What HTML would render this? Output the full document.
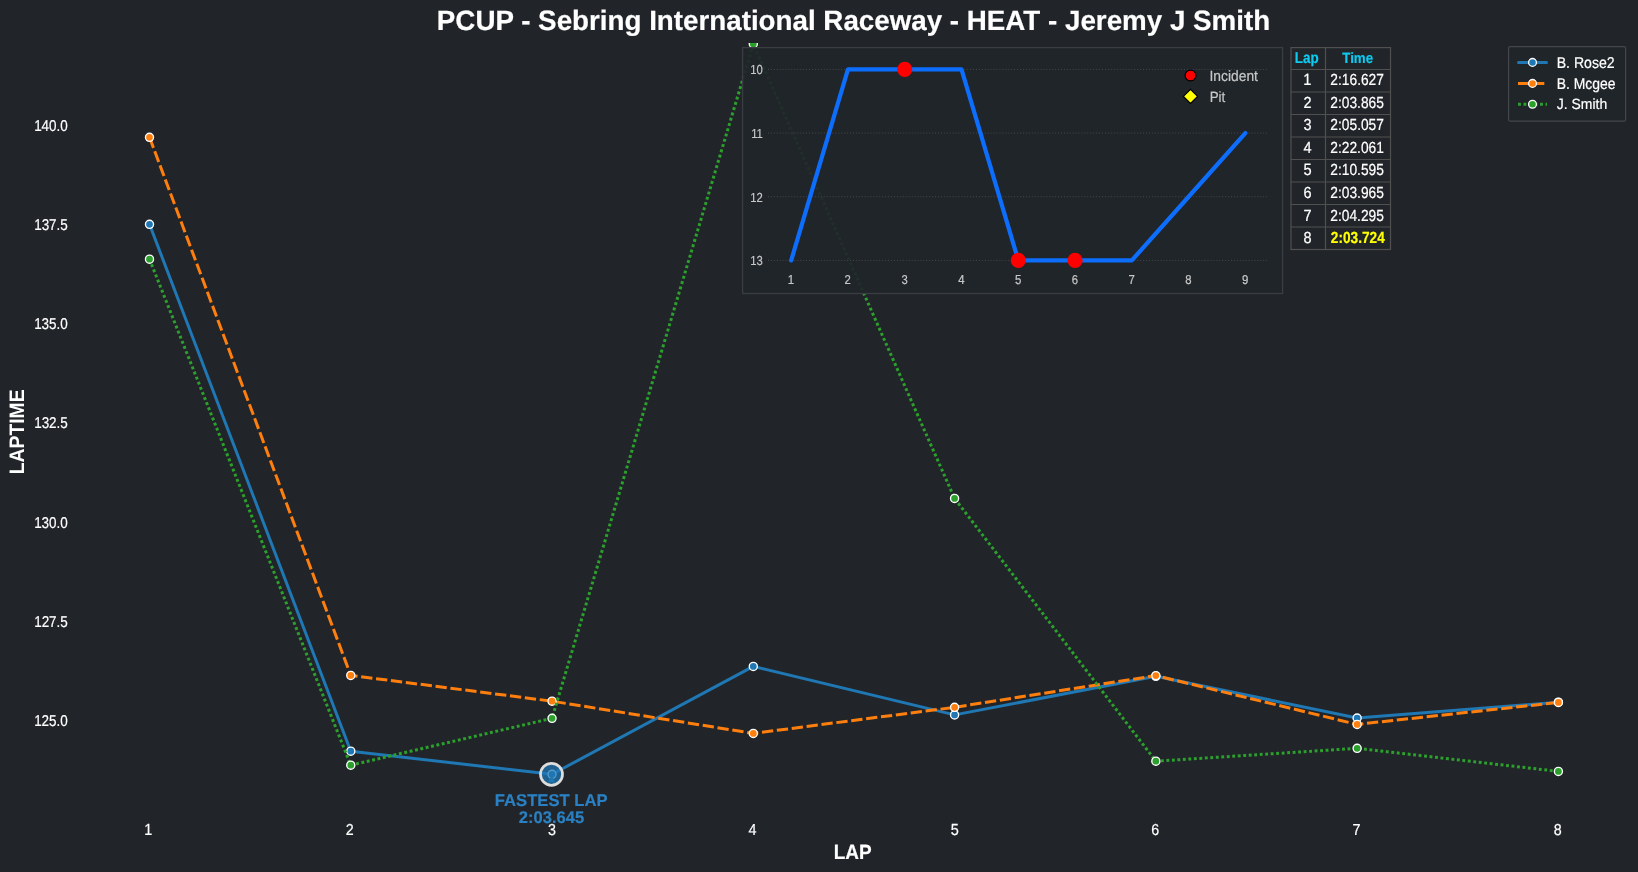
<!DOCTYPE html><html><head><meta charset="utf-8"><style>
html,body{margin:0;padding:0;background:#212529;overflow:hidden;}
svg{display:block;will-change:transform;}
text{font-family:"Liberation Sans", sans-serif;text-rendering:geometricPrecision;}
</style></head><body>
<svg width="1638" height="872" viewBox="0 0 1638 872">
<rect x="0" y="0" width="1638" height="872" fill="#212529"/>
<text transform="translate(34.14,130.59) scale(0.8565,1)" font-size="15.71" fill="#ffffff" stroke="#ffffff" stroke-width="0.2">140.0</text>
<text transform="translate(34.14,229.84) scale(0.8576,1)" font-size="15.71" fill="#ffffff" stroke="#ffffff" stroke-width="0.2">137.5</text>
<text transform="translate(34.14,329.09) scale(0.8565,1)" font-size="15.71" fill="#ffffff" stroke="#ffffff" stroke-width="0.2">135.0</text>
<text transform="translate(34.14,428.34) scale(0.8576,1)" font-size="15.71" fill="#ffffff" stroke="#ffffff" stroke-width="0.2">132.5</text>
<text transform="translate(34.14,527.59) scale(0.8565,1)" font-size="15.71" fill="#ffffff" stroke="#ffffff" stroke-width="0.2">130.0</text>
<text transform="translate(34.14,626.84) scale(0.8576,1)" font-size="15.71" fill="#ffffff" stroke="#ffffff" stroke-width="0.2">127.5</text>
<text transform="translate(34.14,726.09) scale(0.8565,1)" font-size="15.71" fill="#ffffff" stroke="#ffffff" stroke-width="0.2">125.0</text>
<text transform="translate(144.28,835.00) scale(0.9000,1)" font-size="16.09" fill="#ffffff" stroke="#ffffff" stroke-width="0.2">1</text>
<text transform="translate(345.73,835.00) scale(0.9000,1)" font-size="15.86" fill="#ffffff" stroke="#ffffff" stroke-width="0.2">2</text>
<text transform="translate(548.06,835.00) scale(0.9000,1)" font-size="15.86" fill="#ffffff" stroke="#ffffff" stroke-width="0.2">3</text>
<text transform="translate(748.50,835.00) scale(0.9000,1)" font-size="15.96" fill="#ffffff" stroke="#ffffff" stroke-width="0.2">4</text>
<text transform="translate(950.67,835.00) scale(0.9000,1)" font-size="16.09" fill="#ffffff" stroke="#ffffff" stroke-width="0.2">5</text>
<text transform="translate(1151.18,835.00) scale(0.9000,1)" font-size="15.86" fill="#ffffff" stroke="#ffffff" stroke-width="0.2">6</text>
<text transform="translate(1352.40,835.00) scale(0.9000,1)" font-size="15.96" fill="#ffffff" stroke="#ffffff" stroke-width="0.2">7</text>
<text transform="translate(1553.73,835.00) scale(0.9000,1)" font-size="15.86" fill="#ffffff" stroke="#ffffff" stroke-width="0.2">8</text>
<text transform="translate(833.74,859.10) scale(0.9246,1)" font-size="20.56" font-weight="bold" fill="#ffffff" stroke="#ffffff" stroke-width="0.2">LAP</text>
<g transform="translate(24.3,472.9) rotate(-90)"><text transform="translate(-1.28,0) scale(0.9239,1)" font-size="20.92" font-weight="bold" fill="#ffffff">LAPTIME</text></g>
<defs><clipPath id="ax"><rect x="0" y="42.9" width="1638" height="830"/></clipPath></defs><g clip-path="url(#ax)">
<polyline points="149.50,224.30 350.77,751.20 552.04,774.30 753.31,666.40 954.58,714.90 1155.85,676.30 1357.12,718.00 1558.39,702.20" fill="none" stroke="#1f77b4" stroke-width="3.0" stroke-linejoin="round" stroke-linecap="round"/>
<circle cx="149.50" cy="224.30" r="4.05" fill="#1f77b4" stroke="#fff" stroke-width="1.35"/><circle cx="350.77" cy="751.20" r="4.05" fill="#1f77b4" stroke="#fff" stroke-width="1.35"/><circle cx="552.04" cy="774.30" r="4.05" fill="#1f77b4" stroke="#fff" stroke-width="1.35"/><circle cx="753.31" cy="666.40" r="4.05" fill="#1f77b4" stroke="#fff" stroke-width="1.35"/><circle cx="954.58" cy="714.90" r="4.05" fill="#1f77b4" stroke="#fff" stroke-width="1.35"/><circle cx="1155.85" cy="676.30" r="4.05" fill="#1f77b4" stroke="#fff" stroke-width="1.35"/><circle cx="1357.12" cy="718.00" r="4.05" fill="#1f77b4" stroke="#fff" stroke-width="1.35"/><circle cx="1558.39" cy="702.20" r="4.05" fill="#1f77b4" stroke="#fff" stroke-width="1.35"/>
<polyline points="149.50,137.30 350.77,675.40 552.04,701.20 753.31,733.40 954.58,707.30 1155.85,675.60 1357.12,724.40 1558.39,702.40" fill="none" stroke="#ff7f0e" stroke-width="3.0" stroke-dasharray="11.3 3.7" stroke-linejoin="round"/>
<circle cx="149.50" cy="137.30" r="4.05" fill="#ff7f0e" stroke="#fff" stroke-width="1.35"/><circle cx="350.77" cy="675.40" r="4.05" fill="#ff7f0e" stroke="#fff" stroke-width="1.35"/><circle cx="552.04" cy="701.20" r="4.05" fill="#ff7f0e" stroke="#fff" stroke-width="1.35"/><circle cx="753.31" cy="733.40" r="4.05" fill="#ff7f0e" stroke="#fff" stroke-width="1.35"/><circle cx="954.58" cy="707.30" r="4.05" fill="#ff7f0e" stroke="#fff" stroke-width="1.35"/><circle cx="1155.85" cy="675.60" r="4.05" fill="#ff7f0e" stroke="#fff" stroke-width="1.35"/><circle cx="1357.12" cy="724.40" r="4.05" fill="#ff7f0e" stroke="#fff" stroke-width="1.35"/><circle cx="1558.39" cy="702.40" r="4.05" fill="#ff7f0e" stroke="#fff" stroke-width="1.35"/>
<polyline points="149.50,259.20 350.77,765.20 552.04,718.30 753.31,44.00 954.58,498.40 1155.85,761.20 1357.12,748.30 1558.39,771.40" fill="none" stroke="#2ca02c" stroke-width="3.0" stroke-dasharray="2.9 2.6" stroke-linejoin="round"/>
<circle cx="149.50" cy="259.20" r="4.05" fill="#2ca02c" stroke="#fff" stroke-width="1.35"/><circle cx="350.77" cy="765.20" r="4.05" fill="#2ca02c" stroke="#fff" stroke-width="1.35"/><circle cx="552.04" cy="718.30" r="4.05" fill="#2ca02c" stroke="#fff" stroke-width="1.35"/><circle cx="753.31" cy="44.00" r="4.05" fill="#2ca02c" stroke="#fff" stroke-width="1.35"/><circle cx="954.58" cy="498.40" r="4.05" fill="#2ca02c" stroke="#fff" stroke-width="1.35"/><circle cx="1155.85" cy="761.20" r="4.05" fill="#2ca02c" stroke="#fff" stroke-width="1.35"/><circle cx="1357.12" cy="748.30" r="4.05" fill="#2ca02c" stroke="#fff" stroke-width="1.35"/><circle cx="1558.39" cy="771.40" r="4.05" fill="#2ca02c" stroke="#fff" stroke-width="1.35"/>
</g>
<circle cx="551.5" cy="774.3" r="11.0" fill="#1f77b4" fill-opacity="0.75" stroke="#dddddd" stroke-width="2.7"/>
<path d="M551.5,775.3 L548.0,782.3 L555.0,782.3 Z" fill="#1f77b4"/>
<text transform="translate(494.86,805.90) scale(0.9779,1)" font-size="17.00" font-weight="bold" fill="#2a80c2" stroke="#2a80c2" stroke-width="0.2">FASTEST LAP</text>
<text transform="translate(518.84,822.90) scale(0.9801,1)" font-size="16.86" font-weight="bold" fill="#2a80c2" stroke="#2a80c2" stroke-width="0.2">2:03.645</text>
<rect x="742.6" y="47.6" width="539.9999999999999" height="245.9" fill="#212529" fill-opacity="0.92" stroke="#3a3d41" stroke-width="1.3"/>
<line x1="768" y1="69.40" x2="1267" y2="69.40" stroke="#46494e" stroke-width="1" stroke-dasharray="1 1.93"/>
<text transform="translate(750.22,74.30) scale(0.8600,1)" font-size="13.10" fill="#c8c8c8" stroke="#c8c8c8" stroke-width="0.2">10</text>
<line x1="768" y1="133.07" x2="1267" y2="133.07" stroke="#46494e" stroke-width="1" stroke-dasharray="1 1.93"/>
<text transform="translate(751.15,137.97) scale(0.8600,1)" font-size="13.10" fill="#c8c8c8" stroke="#c8c8c8" stroke-width="0.2">11</text>
<line x1="768" y1="196.74" x2="1267" y2="196.74" stroke="#46494e" stroke-width="1" stroke-dasharray="1 1.93"/>
<text transform="translate(750.34,201.64) scale(0.8600,1)" font-size="13.10" fill="#c8c8c8" stroke="#c8c8c8" stroke-width="0.2">12</text>
<line x1="768" y1="260.41" x2="1267" y2="260.41" stroke="#46494e" stroke-width="1" stroke-dasharray="1 1.93"/>
<text transform="translate(750.28,265.31) scale(0.8600,1)" font-size="13.10" fill="#c8c8c8" stroke="#c8c8c8" stroke-width="0.2">13</text>
<text transform="translate(787.65,284.00) scale(0.8800,1)" font-size="13.04" fill="#c8c8c8" stroke="#c8c8c8" stroke-width="0.2">1</text>
<text transform="translate(844.62,284.00) scale(0.8800,1)" font-size="12.86" fill="#c8c8c8" stroke="#c8c8c8" stroke-width="0.2">2</text>
<text transform="translate(901.41,284.00) scale(0.8800,1)" font-size="12.86" fill="#c8c8c8" stroke="#c8c8c8" stroke-width="0.2">3</text>
<text transform="translate(958.18,284.00) scale(0.8800,1)" font-size="12.94" fill="#c8c8c8" stroke="#c8c8c8" stroke-width="0.2">4</text>
<text transform="translate(1014.88,284.00) scale(0.8800,1)" font-size="13.04" fill="#c8c8c8" stroke="#c8c8c8" stroke-width="0.2">5</text>
<text transform="translate(1071.66,284.00) scale(0.8800,1)" font-size="12.86" fill="#c8c8c8" stroke="#c8c8c8" stroke-width="0.2">6</text>
<text transform="translate(1128.45,284.00) scale(0.8800,1)" font-size="12.94" fill="#c8c8c8" stroke="#c8c8c8" stroke-width="0.2">7</text>
<text transform="translate(1185.24,284.00) scale(0.8800,1)" font-size="12.86" fill="#c8c8c8" stroke="#c8c8c8" stroke-width="0.2">8</text>
<text transform="translate(1242.02,284.00) scale(0.8800,1)" font-size="12.86" fill="#c8c8c8" stroke="#c8c8c8" stroke-width="0.2">9</text>
<polyline points="791.20,260.41 847.97,69.40 904.74,69.40 961.51,69.40 1018.28,260.41 1075.05,260.41 1131.82,260.41 1188.59,196.74 1245.36,133.07" fill="none" stroke="#0d6efd" stroke-width="4.2" stroke-linejoin="round" stroke-linecap="round"/>
<circle cx="904.74" cy="69.40" r="7.6" fill="#ff0000"/>
<circle cx="1018.28" cy="260.41" r="7.6" fill="#ff0000"/>
<circle cx="1075.05" cy="260.41" r="7.6" fill="#ff0000"/>
<circle cx="1190.5" cy="75.5" r="5.4" fill="#ff0000" stroke="#000" stroke-width="1.2"/>
<path d="M1190.5,89.4 L1197.6,96.4 L1190.5,103.5 L1183.4,96.4 Z" fill="#ffff00" stroke="#000" stroke-width="1.2"/>
<text transform="translate(1209.53,80.90) scale(0.9267,1)" font-size="14.93" fill="#c8c8c8" stroke="#c8c8c8" stroke-width="0.2">Incident</text>
<text transform="translate(1209.71,102.10) scale(0.8979,1)" font-size="14.86" fill="#c8c8c8" stroke="#c8c8c8" stroke-width="0.2">Pit</text>
<rect x="1291.0" y="47.6" width="99.5" height="201.9" fill="#212529" stroke="#505050" stroke-width="1.2"/>
<line x1="1325.5" y1="47.6" x2="1325.5" y2="249.5" stroke="#505050" stroke-width="1.2"/>
<line x1="1291.0" y1="69.5" x2="1390.5" y2="69.5" stroke="#505050" stroke-width="1.2"/>
<line x1="1291.0" y1="92.0" x2="1390.5" y2="92.0" stroke="#505050" stroke-width="1.2"/>
<line x1="1291.0" y1="114.5" x2="1390.5" y2="114.5" stroke="#505050" stroke-width="1.2"/>
<line x1="1291.0" y1="137.0" x2="1390.5" y2="137.0" stroke="#505050" stroke-width="1.2"/>
<line x1="1291.0" y1="159.5" x2="1390.5" y2="159.5" stroke="#505050" stroke-width="1.2"/>
<line x1="1291.0" y1="182.0" x2="1390.5" y2="182.0" stroke="#505050" stroke-width="1.2"/>
<line x1="1291.0" y1="204.5" x2="1390.5" y2="204.5" stroke="#505050" stroke-width="1.2"/>
<line x1="1291.0" y1="227.0" x2="1390.5" y2="227.0" stroke="#505050" stroke-width="1.2"/>
<text transform="translate(1294.71,62.75) scale(0.8561,1)" font-size="15.72" font-weight="bold" fill="#0dcaf0" stroke="#0dcaf0" stroke-width="0.2">Lap</text>
<text transform="translate(1342.25,62.75) scale(0.8976,1)" font-size="14.86" font-weight="bold" fill="#0dcaf0" stroke="#0dcaf0" stroke-width="0.2">Time</text>
<text transform="translate(1303.32,85.05) scale(0.9000,1)" font-size="16.30" fill="#ffffff" stroke="#ffffff" stroke-width="0.2">1</text>
<text transform="translate(1330.31,85.05) scale(0.8578,1)" font-size="16.07" fill="#ffffff" stroke="#ffffff" stroke-width="0.2">2:16.627</text>
<text transform="translate(1303.57,107.63) scale(0.9000,1)" font-size="16.07" fill="#ffffff" stroke="#ffffff" stroke-width="0.2">2</text>
<text transform="translate(1330.31,107.63) scale(0.8560,1)" font-size="16.07" fill="#ffffff" stroke="#ffffff" stroke-width="0.2">2:03.865</text>
<text transform="translate(1303.60,130.21) scale(0.9000,1)" font-size="16.07" fill="#ffffff" stroke="#ffffff" stroke-width="0.2">3</text>
<text transform="translate(1330.31,130.21) scale(0.8578,1)" font-size="16.07" fill="#ffffff" stroke="#ffffff" stroke-width="0.2">2:05.057</text>
<text transform="translate(1303.60,152.79) scale(0.9000,1)" font-size="16.17" fill="#ffffff" stroke="#ffffff" stroke-width="0.2">4</text>
<text transform="translate(1330.31,152.79) scale(0.8575,1)" font-size="16.07" fill="#ffffff" stroke="#ffffff" stroke-width="0.2">2:22.061</text>
<text transform="translate(1303.51,175.37) scale(0.9000,1)" font-size="16.30" fill="#ffffff" stroke="#ffffff" stroke-width="0.2">5</text>
<text transform="translate(1330.31,175.37) scale(0.8560,1)" font-size="16.07" fill="#ffffff" stroke="#ffffff" stroke-width="0.2">2:10.595</text>
<text transform="translate(1303.53,197.95) scale(0.9000,1)" font-size="16.07" fill="#ffffff" stroke="#ffffff" stroke-width="0.2">6</text>
<text transform="translate(1330.31,197.95) scale(0.8560,1)" font-size="16.07" fill="#ffffff" stroke="#ffffff" stroke-width="0.2">2:03.965</text>
<text transform="translate(1303.54,220.53) scale(0.9000,1)" font-size="16.17" fill="#ffffff" stroke="#ffffff" stroke-width="0.2">7</text>
<text transform="translate(1330.31,220.53) scale(0.8560,1)" font-size="16.07" fill="#ffffff" stroke="#ffffff" stroke-width="0.2">2:04.295</text>
<text transform="translate(1303.58,243.11) scale(0.9000,1)" font-size="16.07" fill="#ffffff" stroke="#ffffff" stroke-width="0.2">8</text>
<text transform="translate(1330.83,243.11) scale(0.8498,1)" font-size="16.07" font-weight="bold" fill="#ffff00" stroke="#ffff00" stroke-width="0.2">2:03.724</text>
<rect x="1508.6" y="46.6" width="117" height="74.6" fill="#212529" fill-opacity="0.8" stroke="#44474b" stroke-width="1.2" rx="1.5"/>
<line x1="1518.5" y1="62.4" x2="1546.5" y2="62.4" stroke="#1f77b4" stroke-width="3.0" stroke-linecap="round"/>
<line x1="1518" y1="83.4" x2="1545" y2="83.4" stroke="#ff7f0e" stroke-width="3.0" stroke-dasharray="11.3 3.7"/>
<line x1="1518" y1="104.3" x2="1547" y2="104.3" stroke="#2ca02c" stroke-width="3.0" stroke-dasharray="2.9 2.6"/>
<circle cx="1532.5" cy="62.4" r="3.9" fill="#1f77b4" stroke="#fff" stroke-width="1.3"/>
<circle cx="1532.5" cy="83.4" r="3.9" fill="#ff7f0e" stroke="#fff" stroke-width="1.3"/>
<circle cx="1532.5" cy="104.3" r="3.9" fill="#2ca02c" stroke="#fff" stroke-width="1.3"/>
<text transform="translate(1556.68,68.00) scale(0.9041,1)" font-size="15.60" fill="#ffffff" stroke="#ffffff" stroke-width="0.2">B. Rose2</text>
<text transform="translate(1556.69,89.15) scale(0.8890,1)" font-size="15.67" fill="#ffffff" stroke="#ffffff" stroke-width="0.2">B. Mcgee</text>
<text transform="translate(1556.85,108.90) scale(0.9423,1)" font-size="14.79" fill="#ffffff" stroke="#ffffff" stroke-width="0.2">J. Smith</text>
<text transform="translate(436.86,30.00) scale(0.9911,1)" font-size="28.00" font-weight="bold" fill="#ffffff" stroke="#ffffff" stroke-width="0.2">PCUP - Sebring International Raceway - HEAT - Jeremy J Smith</text>
</svg></body></html>
